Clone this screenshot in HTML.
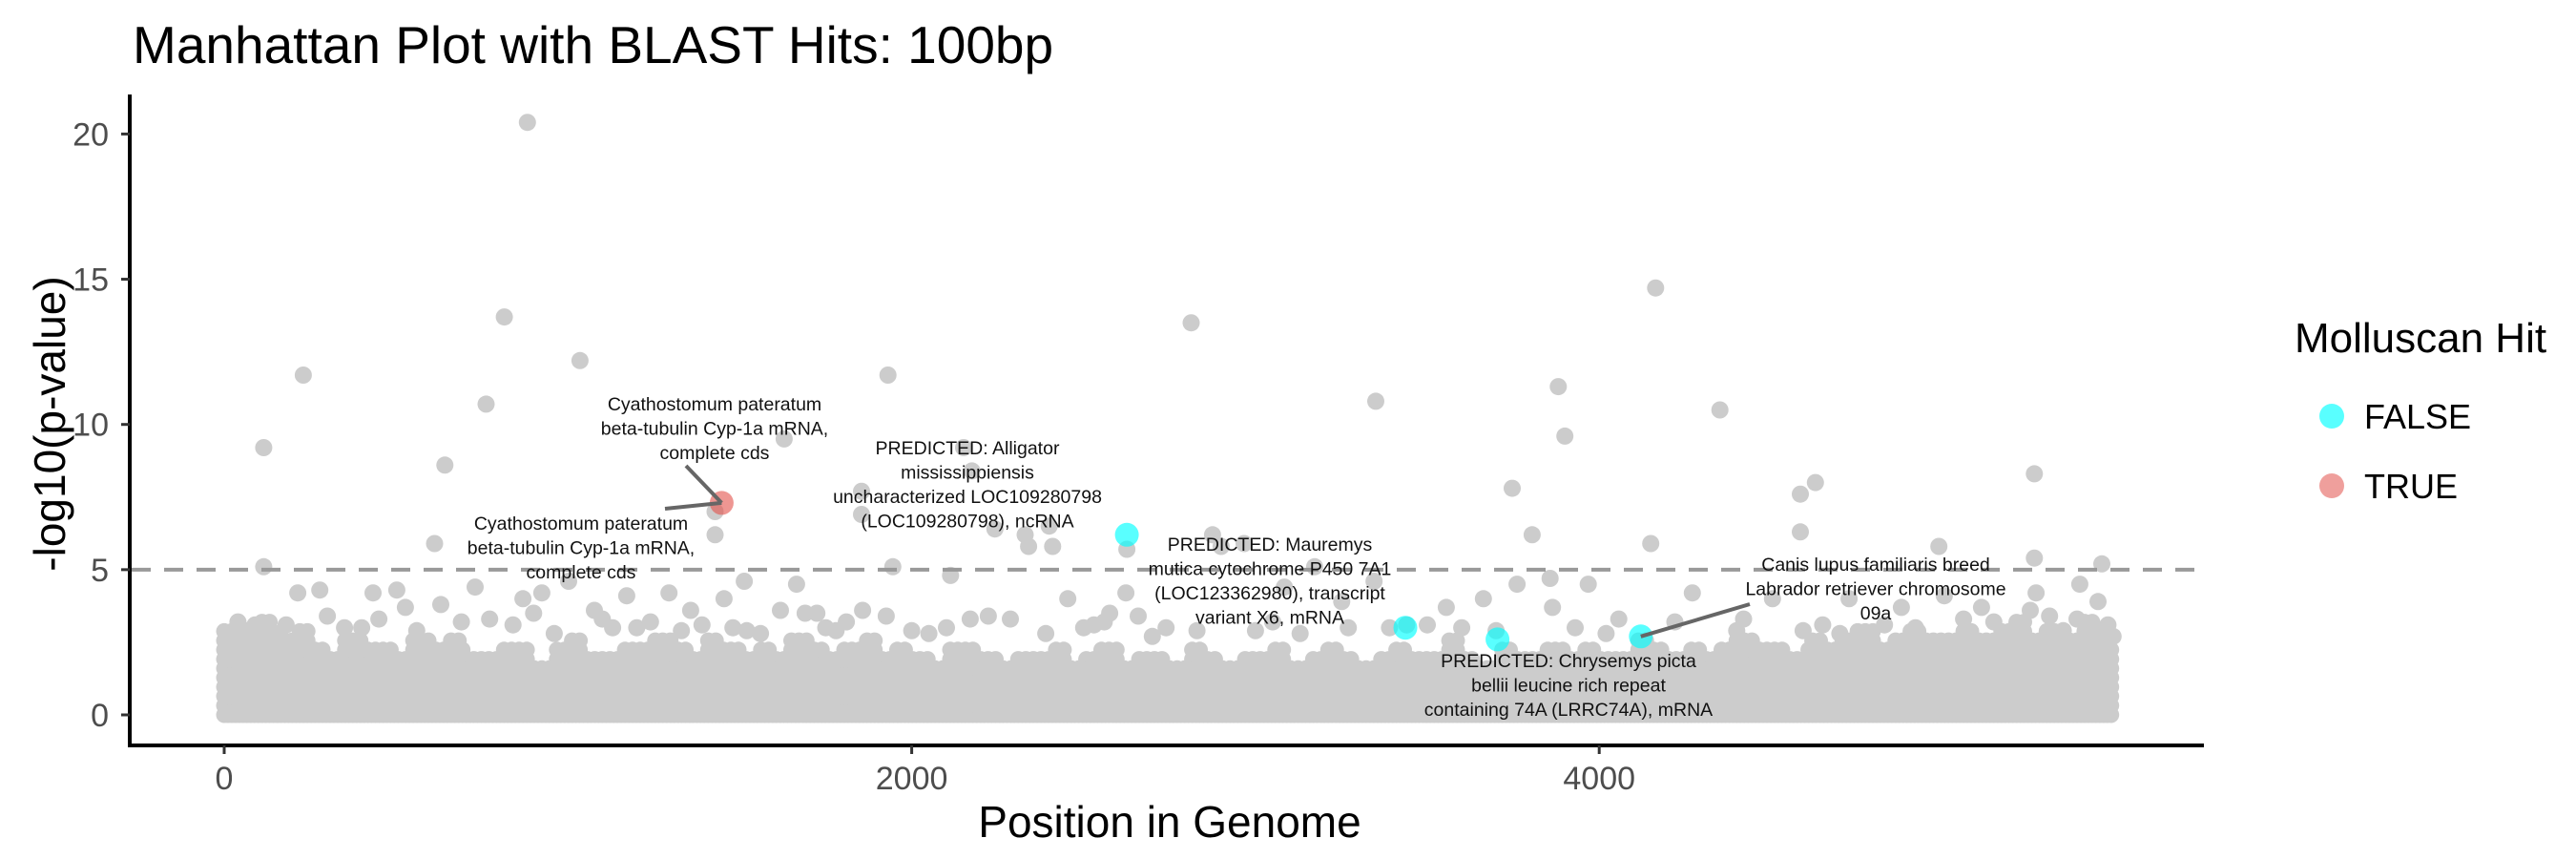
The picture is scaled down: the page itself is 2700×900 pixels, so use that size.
<!DOCTYPE html>
<html><head><meta charset="utf-8"><style>
html,body{margin:0;padding:0;background:#fff}
svg{display:block}
text{font-family:"Liberation Sans",Arial,sans-serif}
</style></head><body>
<svg id="chart" width="2700" height="900" viewBox="0 0 2700 900" xmlns="http://www.w3.org/2000/svg">
<text x="139" y="66" font-size="55" fill="#000">Manhattan Plot with BLAST Hits: 100bp</text>
<g id="bandLayer"></g>
<g id="pointLayer"></g>
<g id="refLayer"></g>
<g id="hitLayer"></g>
<g id="annLayer"></g>
<g id="axisLayer"></g>
<text x="1226" y="877" font-size="46" text-anchor="middle" fill="#000">Position in Genome</text>
<text transform="translate(68,444) rotate(-90)" font-size="46" text-anchor="middle" fill="#000">-log10(p-value)</text>
<g>
<text x="2405" y="369" font-size="44" fill="#000">Molluscan Hit</text>
<g>
<circle cx="2444" cy="436" r="13" fill="#00FFFF" fill-opacity="0.65"/>
<text x="2478" y="449" font-size="36" fill="#000">FALSE</text>
</g>
<g>
<circle cx="2444" cy="509" r="13" fill="#E2504A" fill-opacity="0.55"/>
<text x="2478" y="522" font-size="36" fill="#000">TRUE</text>
</g>
</g>
</svg>
<script>
// ---- data ----
const xTicks = [0, 2000, 4000];
const yTicks = [0, 5, 10, 15, 20];
const threshold = 5;
// upper envelope of the dense low-significance band, per 50bp bin
const bandBinSize = 50;
const bandTop = [3.1,2.8,3.2,2.6,2.9,2.4,2.2,2.7,2.5,2.3,2.1,2.6,2.4,2.8,2.2,2.0,2.5,2.3,1.9,2.4,
2.6,2.2,2.0,2.5,2.3,2.8,2.4,2.0,2.6,2.3,2.1,2.5,2.2,2.7,2.4,2.0,2.3,2.6,2.1,2.4,
2.2,1.9,2.3,2.5,2.1,1.8,2.2,2.0,2.4,1.9,2.1,2.3,1.8,2.2,2.0,1.9,2.4,2.1,1.8,2.2,
2.0,2.3,1.9,2.1,2.5,2.0,1.8,2.2,2.4,2.0,2.1,2.6,2.2,1.9,2.3,2.0,2.2,2.5,2.1,2.4,
2.2,2.0,2.6,2.3,2.1,2.5,2.2,2.4,2.7,2.3,2.5,2.2,2.8,2.4,2.6,2.9,2.5,2.7,3.0,2.6,
2.8,3.1,2.7,2.9,3.2,2.8,3.0,2.7,3.3,2.9];
const bandEnd = 5495;
// individually visible points
const posVals = [882,815,230,1035,762,115,642,1629,1931,2813,3350,3881,3900,4164,4351,5266,3747,4629,4585,4585,3805,4150,4988,5266,115,612,1428,1428,1854,1854,2151,2175,2242,2330,2400,2410,2340,1945,2113,2626,2875,2900,
214,278,433,502,527,630,730,772,869,924,1002,1077,1171,1294,1357,1454,1513,1618,1665,1724,1857,1926,2101,2223,2287,2454,2576,2623,2659,
2967,3084,3172,3270,3555,3663,3761,3857,3968,3864,4057,4271,4504,4727,4879,5004,5112,5254,5398,5451,5390,5495,4593,5148,3345,5271,5462,3251,3440,4420,4830,1520,1690,1130,1240,40,60,90,150,350,1780,2050,2500,2700,3000,3600,4700,5350,5420,
180,300,400,560,690,840,960,1100,1200,1330,1390,1560,1750,1810,2000,2170,2390,2530,2740,2830,3050,3130,3390,3500,3700,3930,4020,4220,4400,4650,4780,4920,5060,5200,5310,5480,2560,1480,900,450];
const pVals = [20.4,13.7,11.7,12.2,10.7,9.2,8.6,9.5,11.7,13.5,10.8,11.3,9.6,14.7,10.5,8.3,7.8,8.0,7.6,6.3,6.2,5.9,5.8,5.4,5.1,5.9,6.2,7.0,7.7,6.9,9.2,8.4,6.4,6.2,6.5,5.8,5.8,5.1,4.8,5.7,6.2,5.8,
4.2,4.3,4.2,4.3,3.7,3.8,4.4,3.3,4.0,4.2,4.6,3.6,4.1,4.2,3.6,4.0,4.6,3.6,4.5,3.5,3.6,3.4,3.0,3.4,3.3,4.0,3.5,4.2,3.4,
5.9,4.4,5.1,3.0,3.7,4.0,4.5,4.7,4.5,3.7,3.3,4.2,4.0,4.0,3.7,4.1,3.7,3.6,4.5,3.9,3.3,2.7,2.9,3.2,4.6,4.2,5.2,3.9,3.1,3.3,3.1,2.9,3.5,3.0,3.2,3.2,2.9,3.1,2.8,3.0,2.9,2.8,3.0,2.7,2.9,3.0,2.8,2.9,3.0,3.1,
3.4,3.0,2.9,3.2,3.1,2.8,3.3,3.0,2.9,3.1,2.8,3.0,3.2,2.9,3.3,2.8,3.1,3.0,2.9,3.2,2.8,3.0,3.1,2.9,3.0,2.8,3.2,2.9,3.1,2.8,3.0,3.3,2.9,3.4,3.1,3.2,3.0,3.5,3.3,3.6];
// BLAST hits
const hitPos = [1447, 2626, 3436, 3704, 4121];
const hitVal = [7.3, 6.2, 3.0, 2.6, 2.7];
const hitMollusc = [true, false, false, false, false];
const hitLabels = [
 "Cyathostomum pateratum|beta-tubulin Cyp-1a mRNA,|complete cds",
 "PREDICTED: Alligator|mississippiensis|uncharacterized LOC109280798|(LOC109280798), ncRNA",
 "PREDICTED: Mauremys|mutica cytochrome P450 7A1|(LOC123362980), transcript|variant X6, mRNA",
 "PREDICTED: Chrysemys picta|bellii leucine rich repeat|containing 74A (LRRC74A), mRNA",
 "Canis lupus familiaris breed|Labrador retriever chromosome|09a"
];

// ---- scales ----
const X = p => 235 + p * 0.3603;
const Y = v => 749 - v * 30.43;
const NS = "http://www.w3.org/2000/svg";
function mk(tag, attrs, parent){const e=document.createElementNS(NS,tag);for(const k in attrs)e.setAttribute(k,attrs[k]);parent.appendChild(e);return e;}

// dense band
const band = document.getElementById('bandLayer');
let col = 0;
for (let p = 0; p <= bandEnd; p += 11, col++) {
  const top = bandTop[Math.min(bandTop.length-1, Math.floor(p / bandBinSize))] - (col % 2 ? 0.5 : 0);
  for (let v = 0; v <= top; v += 0.32) {
    const c = mk('circle', {cx: X(p).toFixed(1), cy: Y(v).toFixed(1), r: 8.5, fill: '#cccccc'}, band);
    
    
  }
}
// individual points
const pl = document.getElementById('pointLayer');
posVals.forEach((p, i) => {
  const c = mk('circle', {cx: X(p).toFixed(1), cy: Y(pVals[i]).toFixed(1), r: 9, fill: '#cccccc'}, pl);
  
  
});
// threshold line
const rl = document.getElementById('refLayer');
const ln = mk('line', {x1: 138, x2: 2310, y1: Y(threshold), y2: Y(threshold), stroke: '#999999', 'stroke-width': 4, 'stroke-dasharray': '20,14'}, rl);


// hits
const hl = document.getElementById('hitLayer');
hitPos.forEach((p, i) => {
  const c = mk('circle', {cx: X(p).toFixed(1), cy: Y(hitVal[i]).toFixed(1), r: 12.5,
    fill: hitMollusc[i] ? '#E2504A' : '#00FFFF', 'fill-opacity': hitMollusc[i] ? 0.6 : 0.65}, hl);
  
  
});
// annotations
const al = document.getElementById('annLayer');
const annHit = [0,0,1,2,3,4];
const annAbs = [[749,423],[609,548],[1014,469],[1331,570],[1644,692],[1966,591]];
const annSeg = [[719,488],[697,533],null,null,null,[1834,633]];
annAbs.forEach((a, k) => {
  const hi = annHit[k];
  const hx = X(hitPos[hi]), hy = Y(hitVal[hi]);
  if (annSeg[k]) {
    const s = mk('line', {x1: annSeg[k][0], y1: annSeg[k][1], x2: hx, y2: hy, stroke: '#666', 'stroke-width': 4}, al);
    
    
  }
  const lines = hitLabels[hi].split('|');
  lines.forEach((t, j) => {
    const tx = mk('text', {x: a[0], y: a[1] + j * 25.5 + 7, 'font-size': 19.5, 'text-anchor': 'middle', fill: '#111'}, al);
    tx.textContent = t;
    
    
  });
});
// axes
const ax = document.getElementById('axisLayer');
let e = mk('line', {x1: 136, x2: 136, y1: 99, y2: 783, stroke: '#000', 'stroke-width': 4}, ax);


e = mk('line', {x1: 134, x2: 2310, y1: 781, y2: 781, stroke: '#000', 'stroke-width': 4}, ax);


yTicks.forEach(v => {
  const t = mk('line', {x1: 127, x2: 136, y1: Y(v), y2: Y(v), stroke: '#333', 'stroke-width': 3}, ax);
  
  
  const l = mk('text', {x: 114, y: Y(v) + 12, 'font-size': 34, 'text-anchor': 'end', fill: '#4d4d4d'}, ax);
  l.textContent = v;
  
  
});
xTicks.forEach(p => {
  const t = mk('line', {x1: X(p), x2: X(p), y1: 781, y2: 790, stroke: '#333', 'stroke-width': 3}, ax);
  
  
  const l = mk('text', {x: X(p), y: 827, 'font-size': 34, 'text-anchor': 'middle', fill: '#4d4d4d'}, ax);
  l.textContent = p;
  
  
});
</script>
</body></html>
